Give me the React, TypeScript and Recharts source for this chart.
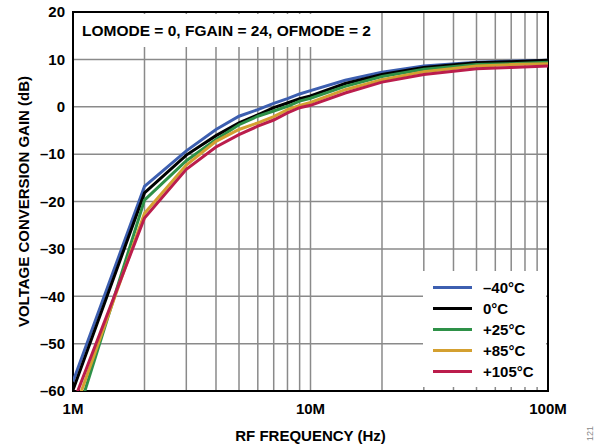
import React from 'react';
import { LineChart, Line, XAxis, YAxis, CartesianGrid, ReferenceArea } from 'recharts';

const freqMHz = [1, 2, 3, 4, 5, 6, 7, 8, 9, 10, 14, 20, 30, 50, 70, 100];
const gainM40 = [-58.0, -16.8, -9.3, -4.8, -2.0, -0.6, 0.7, 1.7, 2.7, 3.4, 5.6, 7.3, 8.6, 9.4, 9.6, 9.8];
const gain0 = [-59.8, -18.2, -10.2, -6.1, -3.4, -1.7, -0.2, 0.8, 1.7, 2.3, 4.9, 6.8, 8.3, 9.3, 9.5, 9.8];
const gain25 = [-68.0, -19.7, -11.4, -6.9, -3.8, -2.0, -0.9, 0.1, 1.2, 1.8, 4.3, 6.4, 7.9, 8.9, 9.1, 9.4];
const gain85 = [-65.0, -22.5, -12.3, -7.3, -4.8, -3.4, -2.1, -0.6, 0.3, 0.9, 3.6, 5.7, 7.4, 8.6, 8.9, 9.1];
const gain105 = [-62.6, -23.5, -13.2, -8.5, -5.9, -4.1, -2.8, -1.3, -0.2, 0.3, 2.9, 5.2, 6.8, 8.0, 8.3, 8.6];

const seriesNames = ['–40°C', '0°C', '+25°C', '+85°C', '+105°C'];
const seriesValues = [gainM40, gain0, gain25, gain85, gain105];
const seriesColors = ['#3d5fb0', '#000000', '#2e9148', '#d4a030', '#bb1d4c'];

const xTicks = [1e6, 2e6, 3e6, 4e6, 5e6, 6e6, 7e6, 8e6, 9e6, 1e7, 2e7, 3e7, 4e7, 5e7, 6e7, 7e7, 8e7, 9e7, 1e8];
const xTickLabels: Record<string, string> = { '1000000': '1M', '10000000': '10M', '100000000': '100M' };
const yTicks = [-60, -50, -40, -30, -20, -10, 0, 10, 20];
const annotationText = 'LOMODE = 0, FGAIN = 24, OFMODE = 2';
const xTitle = 'RF FREQUENCY (Hz)';
const yTitle = 'VOLTAGE CONVERSION GAIN (dB)';
const figNumber = '121';

const data = freqMHz.map((f, i) => {
  const row: Record<string, number> = { f: f * 1e6 };
  seriesValues.forEach((vals, k) => {
    row['s' + k] = vals[i];
  });
  return row;
});

const FONT = '"Liberation Sans", Arial, Helvetica, sans-serif';
const tickStyle = { fontSize: 15, fontWeight: 700, fill: '#000', fontFamily: FONT };

const fmtY = (v: number) => (v < 0 ? '–' + Math.abs(v) : String(v));
const fmtX = (v: number) => xTickLabels[String(Math.round(v))] || '';

export default function App() {
  return (
    <div style={{ position: 'absolute', left: 0, top: 0, width: 600, height: 446, background: '#fff', fontFamily: FONT }}>
      <LineChart width={600} height={446} data={data} margin={{ top: 12, right: 52, left: 0, bottom: 0 }}>
        <CartesianGrid stroke="#8a8a8a" strokeWidth={1.5} />
        <XAxis
          dataKey="f"
          type="number"
          scale="log"
          domain={[1e6, 1e8]}
          ticks={xTicks}
          interval={0}
          allowDataOverflow
          tickFormatter={fmtX}
          tickLine={false}
          axisLine={false}
          height={55}
          tickMargin={6}
          tick={tickStyle}
          label={{ value: xTitle, position: 'insideBottom', offset: 5, style: { fontSize: 15, fontWeight: 700, fill: '#000', fontFamily: FONT } }}
        />
        <YAxis
          type="number"
          domain={[-60, 20]}
          ticks={yTicks}
          interval={0}
          allowDataOverflow
          tickFormatter={fmtY}
          tickLine={false}
          axisLine={false}
          width={73}
          tick={tickStyle}
          label={{ value: yTitle, angle: -90, position: 'insideLeft', offset: 24, style: { textAnchor: 'middle', fontSize: 15, fontWeight: 700, fill: '#000', fontFamily: FONT } }}
        />
        {seriesNames.map((name, k) => (
          <Line
            key={name}
            name={name}
            dataKey={'s' + k}
            type="linear"
            stroke={seriesColors[k]}
            strokeWidth={3}
            dot={false}
            isAnimationActive={false}
          />
        ))}
        <ReferenceArea x1={1e6} x2={1e8} y1={-60} y2={20} fill="none" stroke="#000" strokeWidth={2} />
      </LineChart>
      <div
        style={{
          position: 'absolute', left: 75, top: 14, width: 303, height: 33, background: '#fff',
          fontSize: 15.5, fontWeight: 700, color: '#000', lineHeight: '33px', paddingLeft: 7, boxSizing: 'border-box', whiteSpace: 'nowrap',
        }}
      >
        {annotationText}
      </div>
      <div
        style={{
          position: 'absolute', left: 423, top: 271, width: 123, height: 116, background: '#fff',
        }}
      >
        {seriesNames.map((name, k) => (
          <div key={name} style={{ position: 'absolute', left: 10, top: 6 + k * 21.2, height: 20, display: 'flex', alignItems: 'center' }}>
            <div style={{ width: 39, height: 3, background: seriesColors[k] }} />
            <div style={{ marginLeft: 11, fontSize: 15, fontWeight: 700, color: '#000', whiteSpace: 'nowrap' }}>{name}</div>
          </div>
        ))}
      </div>
      <div
        style={{
          position: 'absolute', left: 583, top: 428, width: 14, height: 12, fontSize: 9, color: '#888',
          transform: 'rotate(-90deg)', lineHeight: '12px', textAlign: 'center',
        }}
      >
        {figNumber}
      </div>
    </div>
  );
}
